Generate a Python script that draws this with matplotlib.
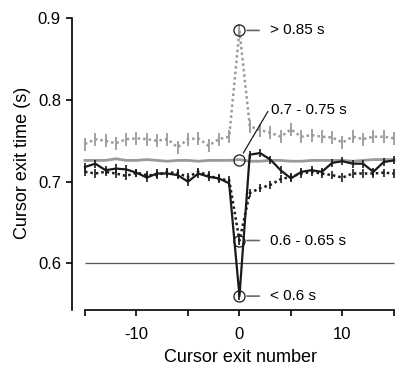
import matplotlib
matplotlib.use("Agg")
import matplotlib.pyplot as plt
import numpy as np

# cursor exit number relative to the event
exit_num = np.arange(-15, 16)

# > 0.85 s group (gray dotted)
slow_mean = [0.746, 0.752, 0.750, 0.747, 0.752, 0.753, 0.752, 0.750, 0.752, 0.742,
             0.752, 0.753, 0.744, 0.752, 0.755, 0.885, 0.768, 0.763, 0.760, 0.755,
             0.764, 0.755, 0.757, 0.755, 0.754, 0.748, 0.755, 0.752, 0.755, 0.755, 0.753]
slow_err = [0.008] * 31

# 0.7 - 0.75 s group (gray solid)
mid_mean = [0.726, 0.726, 0.726, 0.728, 0.726, 0.726, 0.727, 0.726, 0.725, 0.726,
            0.726, 0.725, 0.726, 0.726, 0.726, 0.727, 0.725, 0.725, 0.726, 0.726,
            0.725, 0.725, 0.726, 0.726, 0.726, 0.726, 0.725, 0.726, 0.727, 0.727, 0.727]

# 0.6 - 0.65 s group (black dotted)
fast_mean = [0.712, 0.710, 0.712, 0.710, 0.707, 0.711, 0.708, 0.708, 0.712, 0.710,
             0.706, 0.712, 0.708, 0.703, 0.702, 0.628, 0.686, 0.692, 0.696, 0.703,
             0.706, 0.710, 0.712, 0.710, 0.708, 0.705, 0.710, 0.710, 0.710, 0.711, 0.710]
fast_err = [0.005] * 31

# < 0.6 s group (black solid)
vfast_mean = [0.718, 0.722, 0.714, 0.716, 0.715, 0.711, 0.705, 0.710, 0.710, 0.708,
              0.700, 0.710, 0.706, 0.704, 0.698, 0.560, 0.733, 0.735, 0.727, 0.714,
              0.704, 0.712, 0.714, 0.712, 0.723, 0.725, 0.722, 0.722, 0.712, 0.724, 0.726]
vfast_err = [0.005] * 31

labels = ["> 0.85 s", "0.7 - 0.75 s", "0.6 - 0.65 s", "< 0.6 s"]


def main():
    plt.rcParams["font.family"] = ["Liberation Sans", "DejaVu Sans"]

    fig = plt.figure(figsize=(3.96, 3.67), dpi=100)
    ax = fig.add_axes([72 / 396, 57 / 367, 324 / 396, 300 / 367])

    gray = "#9a9a9a"
    black = "#1a1a1a"

    # reference line
    ax.hlines(0.6, -15, 15, color="#555555", lw=0.9, zorder=1)

    # gray dotted
    ax.errorbar(exit_num, slow_mean, yerr=slow_err, fmt="none", ecolor=gray, elinewidth=1.3, zorder=2)
    ax.plot(exit_num, slow_mean, color=gray, lw=1.8, ls=(0, (1, 1.2)), zorder=2)

    # gray solid
    ax.plot(exit_num, mid_mean, color=gray, lw=2.0, zorder=3)

    # black dotted
    ax.errorbar(exit_num, fast_mean, yerr=fast_err, fmt="none", ecolor=black, elinewidth=1.2, zorder=4)
    ax.plot(exit_num, fast_mean, color=black, lw=1.8, ls=(0, (1, 1.2)), zorder=4)

    # black solid
    ax.errorbar(exit_num, vfast_mean, yerr=vfast_err, fmt="none", ecolor=black, elinewidth=1.2, zorder=5)
    ax.plot(exit_num, vfast_mean, color=black, lw=1.6, zorder=5)

    # circles at exit 0
    i0 = list(exit_num).index(0)
    zero_vals = [slow_mean[i0], mid_mean[i0], fast_mean[i0], vfast_mean[i0]]
    ax.plot([0] * 4, zero_vals, ls="none", marker="o", ms=8, mfc="none",
            mec=black, mew=0.9, zorder=6)

    # annotations
    fs_ann = 11
    ax.annotate(labels[0], xy=(0, zero_vals[0]), xytext=(3.0, zero_vals[0]),
                ha="left", va="center", fontsize=fs_ann,
                arrowprops=dict(arrowstyle="-", color="#666666", lw=1.2,
                                shrinkA=6, shrinkB=5.5))
    ax.annotate(labels[1], xy=(0, zero_vals[1]), xytext=(3.1, 0.788),
                ha="left", va="center", fontsize=fs_ann,
                arrowprops=dict(arrowstyle="-", color=black, lw=0.9,
                                shrinkA=1, shrinkB=5.5, relpos=(0, 0.8)))
    ax.annotate(labels[2], xy=(0, zero_vals[2]), xytext=(3.0, zero_vals[2]),
                ha="left", va="center", fontsize=fs_ann,
                arrowprops=dict(arrowstyle="-", color="#666666", lw=1.2,
                                shrinkA=6, shrinkB=5.5))
    ax.annotate(labels[3], xy=(0, zero_vals[3]), xytext=(3.0, zero_vals[3]),
                ha="left", va="center", fontsize=fs_ann,
                arrowprops=dict(arrowstyle="-", color="#666666", lw=1.2,
                                shrinkA=6, shrinkB=5.5))

    # axes styling
    ax.set_xlim(-16.26, 15.2)
    ax.set_ylim(0.543, 0.910)
    ax.spines["top"].set_visible(False)
    ax.spines["right"].set_visible(False)
    ax.spines["left"].set_bounds(0.543, 0.9)
    ax.spines["bottom"].set_bounds(-15, 15)
    ax.spines["left"].set_linewidth(1.2)
    ax.spines["bottom"].set_linewidth(1.2)

    ax.set_xticks([-15, -10, -5, 0, 5, 10, 15])
    ax.set_xticklabels(["", "-10", "", "0", "", "10", ""])
    ax.set_yticks([0.6, 0.7, 0.8, 0.9])
    ax.set_yticklabels(["0.6", "0.7", "0.8", "0.9"])
    ax.tick_params(direction="out", length=4, width=1.2, labelsize=12, pad=4)
    ax.tick_params(axis="x", pad=8)

    ax.set_xlabel("Cursor exit number", fontsize=13)
    ax.set_ylabel("Cursor exit time (s)", fontsize=13)
    ax.xaxis.set_label_coords(0.519, -0.13)
    ax.yaxis.set_label_coords(-0.125, 0.49)

    fig.savefig("out.png", dpi=100)


if __name__ == "__main__":
    main()
